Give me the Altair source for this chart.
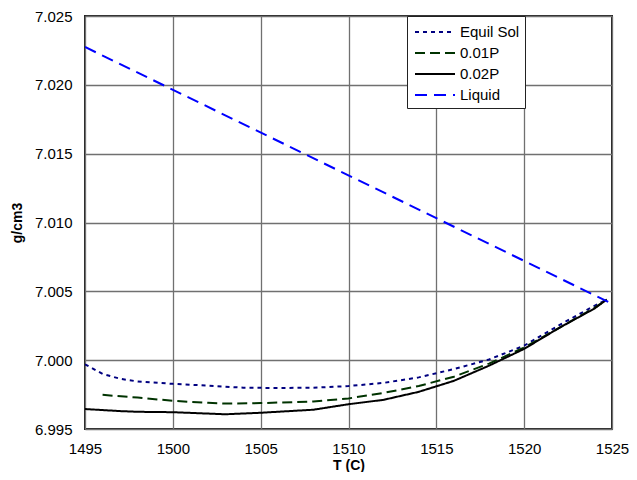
import altair as alt
import pandas as pd

series_order = ["Equil Sol", "0.01P", "0.02P", "Liquid"]

equil_T = [1495, 1496, 1497, 1498, 1500, 1502, 1504, 1506, 1508, 1510, 1512, 1514, 1516, 1518, 1520, 1522, 1524, 1524.7]
equil_v = [6.99970, 6.99900, 6.99865, 6.99845, 6.99828, 6.99815, 6.99800, 6.99798, 6.99800, 6.99812,
           6.99835, 6.99875, 6.99935, 7.00005, 7.00105, 7.00255, 7.00395, 7.00440]

p01_T = [1496, 1498, 1500, 1502, 1503, 1505, 1508, 1510, 1512, 1514, 1516, 1518, 1520, 1522, 1524, 1524.7]
p01_v = [6.99748, 6.99728, 6.99705, 6.99690, 6.99685, 6.99688, 6.99700, 6.99722, 6.99762, 6.99812,
         6.99880, 6.99975, 7.00092, 7.00235, 7.00380, 7.00440]

p02_T = [1495, 1497, 1498, 1500, 1503, 1505, 1508, 1510, 1512, 1514, 1516, 1518, 1520, 1522, 1524, 1524.7]
p02_v = [6.99645, 6.99630, 6.99625, 6.99622, 6.99607, 6.99618, 6.99640, 6.99680, 6.99712, 6.99770,
         6.99850, 6.99960, 7.00082, 7.00235, 7.00375, 7.00440]

liq_T = [1495, 1525]
liq_v = [7.02275, 7.00410]

rows = []
for name, ts, vs in [("Equil Sol", equil_T, equil_v), ("0.01P", p01_T, p01_v),
                     ("0.02P", p02_T, p02_v), ("Liquid", liq_T, liq_v)]:
    for i, (t, v) in enumerate(zip(ts, vs)):
        rows.append({"T": t, "v": v, "series": name, "i": i})
df = pd.DataFrame(rows)

x_ticks = [1495, 1500, 1505, 1510, 1515, 1520, 1525]
y_ticks = [6.995, 7.000, 7.005, 7.010, 7.015, 7.020, 7.025]

FONT = "Liberation Sans"

chart = alt.Chart(df).mark_line(strokeWidth=2, clip=True).encode(
    x=alt.X("T:Q", title="T (C)",
            scale=alt.Scale(domain=[1495, 1525], nice=False, zero=False),
            axis=alt.Axis(values=x_ticks, format="d", grid=True, labelFlush=False,
                          labelPadding=12, titlePadding=2, titleFontSize=14)),
    y=alt.Y("v:Q", title="g/cm3",
            scale=alt.Scale(domain=[6.995, 7.025], nice=False, zero=False),
            axis=alt.Axis(values=y_ticks, format=".3f", grid=True, labelFlush=False,
                          labelPadding=13, titlePadding=10, titleFontSize=14)),
    color=alt.Color("series:N",
                    scale=alt.Scale(domain=series_order,
                                    range=["#000080", "#003300", "#000000", "#0000FF"]),
                    sort=series_order,
                    legend=alt.Legend(title=None, orient="none", legendX=322, legendY=0,
                                      symbolType="M-0.8,0H3.2", symbolSize=400, symbolStrokeWidth=2,
                                      labelFontSize=15, labelFont=FONT, labelColor="#000000",
                                      rowPadding=2, fillColor="white", strokeColor="#222222",
                                      padding=5, labelOffset=26)),
    strokeDash=alt.StrokeDash("series:N",
                              scale=alt.Scale(domain=series_order,
                                              range=[[4, 4], [10, 5], [1, 0], [12, 7]]),
                              sort=series_order,
                              legend=None),
    order="i:Q",
    detail="series:N",
).properties(
    width=527, height=413,
    background="white",
    autosize=alt.AutoSizeParams(type="none"),
    padding={"left": 77, "top": 8, "right": 17, "bottom": 43},
).configure_view(
    stroke="#222222", strokeWidth=2
).configure_axis(
    grid=True, gridColor="#707070", gridWidth=1.3, gridOpacity=1,
    domain=False, ticks=False,
    labelFont=FONT, labelFontSize=15, labelColor="#000000",
    titleFont=FONT, titleFontWeight="bold", titleColor="#000000",
)

chart.save("out.html", embed_options={"renderer": "svg", "actions": False})
